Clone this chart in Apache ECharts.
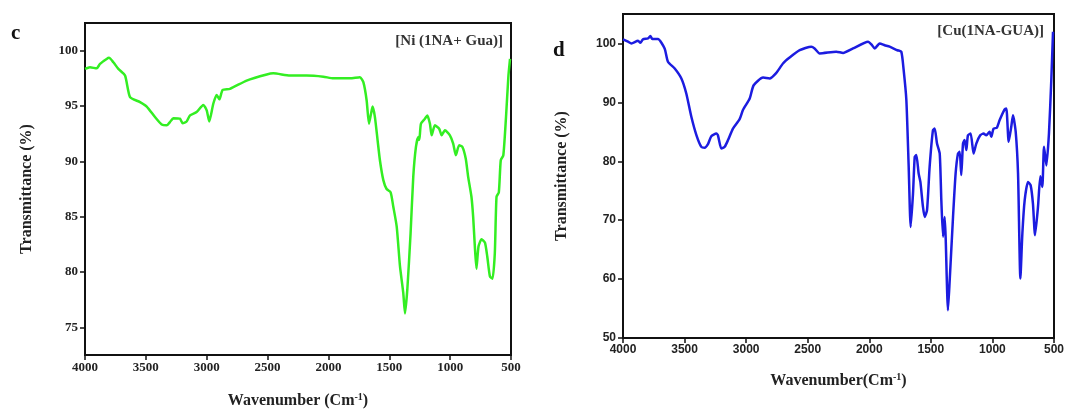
<!DOCTYPE html>
<html>
<head>
<meta charset="utf-8">
<script src="https://cdn.jsdelivr.net/npm/echarts@6/dist/echarts.min.js"></script>
<style>
html,body{margin:0;padding:0;background:#fff;}
#chart{width:1083px;height:409px;}
</style>
</head>
<body>
<div id="chart"></div>
<script>
// Panel c: Ni (1NA+ Gua)
var niWavenumber = [4000,3959,3904,3877,3822,3803,3767,3726,3671,3630,3548,3493,3425,3370,3329,3302,3274,3220,3198,3165,3137,3083,3028,3000,2979,2946,2918,2896,2869,2809,2672,2507,2453,2316,2179,2042,1960,1823,1741,1713,1686,1667,1650,1637,1618,1596,1577,1549,1522,1489,1467,1439,1412,1385,1371,1352,1325,1303,1281,1261,1253,1240,1207,1188,1166,1152,1125,1090,1070,1043,1002,975,953,926,899,872,852,825,811,797,784,767,742,714,695,673,652,633,619,600,584,563,541,522,508];
var niTransmittance = [98.35,98.5,98.4,98.8,99.25,99.35,98.95,98.35,97.75,95.8,95.35,94.95,94.0,93.33,93.25,93.55,93.9,93.85,93.45,93.6,94.15,94.45,95.1,94.6,93.6,95.2,96.0,95.6,96.45,96.55,97.3,97.85,97.95,97.75,97.75,97.65,97.5,97.5,97.6,97.15,95.5,93.4,94.3,94.95,94.0,91.9,90.1,88.3,87.5,87.2,85.9,84.1,80.5,78.1,76.25,78.4,83.5,88.6,91.3,92.2,91.95,93.4,93.85,94.15,93.4,92.35,93.25,92.95,92.35,92.8,92.35,91.6,90.55,91.45,91.3,90.25,88.6,86.8,85.0,82.3,80.3,82.3,82.95,82.65,81.4,79.6,79.4,81.7,86.8,87.2,90.1,90.55,94.0,97.6,99.25];

// Panel d: Cu(1NA-GUA)
var cuWavenumber = [4000,3959,3932,3878,3859,3838,3797,3778,3762,3716,3662,3635,3580,3526,3486,3445,3404,3364,3337,3310,3283,3242,3229,3201,3174,3147,3107,3053,3026,2971,2939,2863,2809,2755,2701,2647,2565,2471,2444,2403,2268,2213,2132,2010,1983,1956,1916,1875,1835,1772,1740,1721,1699,1680,1664,1645,1631,1618,1599,1585,1564,1550,1531,1510,1483,1469,1450,1428,1415,1401,1388,1380,1361,1347,1320,1299,1280,1266,1253,1239,1226,1212,1199,1177,1153,1131,1099,1072,1050,1023,1009,991,964,942,901,887,868,847,833,811,792,773,757,738,711,690,671,654,630,611,595,581,562,541,522,508];
var cuTransmittance = [100.7,100.3,100.0,100.45,100.1,100.7,100.85,101.25,100.75,100.75,99.15,96.9,95.75,94.05,91.5,87.55,84.45,82.45,82.3,82.9,84.25,84.7,84.4,82.15,82.45,83.6,85.55,87.15,88.7,90.65,92.9,94.2,94.05,95.0,96.6,97.6,98.85,99.45,99.15,98.3,98.6,98.4,99.15,100.3,99.85,99.15,100.0,99.7,99.45,98.85,98.6,95.5,90.4,79.05,68.85,74.5,80.75,81.05,77.9,76.5,72.25,70.55,71.7,79.05,85.3,85.55,83.0,81.3,73.4,67.2,70.55,67.2,54.7,59.8,70.55,77.9,81.3,81.6,77.65,83.0,83.6,81.9,84.4,84.7,81.3,83.0,84.4,84.7,84.4,85.0,84.15,85.55,85.7,86.95,88.8,88.95,83.3,85.85,87.8,85.0,77.9,60.1,67.7,73.4,76.5,75.95,72.8,67.45,72.25,77.45,75.65,82.45,79.3,84.7,93.75,102.0];

var xTicks = [4000,3500,3000,2500,2000,1500,1000,500];
var niYTicks = [75,80,85,90,95,100];
var cuYTicks = [50,60,70,80,90,100];

function pairs(xs, ys){ var out=[]; for(var i=0;i<xs.length;i++){ out.push([xs[i], ys[i]]); } return out; }
function plain(v){ return String(v); }

var serif = '"Liberation Serif", "DejaVu Serif", serif';
var sans = '"Liberation Sans", Arial, sans-serif';

function xAxis(gridIndex, font, size, nameText, gap){
  return {
    type:'value', gridIndex:gridIndex, min:500, max:4000, interval:500, inverse:true,
    axisLine:{show:true, lineStyle:{color:'#111', width:2}},
    axisTick:{show:true, inside:false, length:5, lineStyle:{color:'#111', width:1.5}, customValues:xTicks},
    axisLabel:{color:'#222', fontFamily:font, fontWeight:'bold', fontSize:size, margin:6, customValues:xTicks, formatter:plain},
    splitLine:{show:false},
    name:nameText, nameLocation:'middle', nameGap:gap,
    nameTextStyle:{color:'#222', fontFamily:serif, fontWeight:'bold', fontSize:16,
      rich:{sup:{fontSize:10, fontFamily:serif, fontWeight:'bold', color:'#222', verticalAlign:'top', padding:[0,0,8,0]}}}
  };
}
function yAxis(gridIndex, font, size, mn, mx, ticks, gap){
  return {
    type:'value', gridIndex:gridIndex, min:mn, max:mx,
    axisLine:{show:true, lineStyle:{color:'#111', width:2}},
    axisTick:{show:true, inside:false, length:5, lineStyle:{color:'#111', width:1.5}, customValues:ticks},
    axisLabel:{color:'#222', fontFamily:font, fontWeight:'bold', fontSize:size, margin:7, customValues:ticks, formatter:plain},
    splitLine:{show:false},
    name:'Transmittance (%)', nameLocation:'middle', nameGap:gap,
    nameTextStyle:{color:'#222', fontFamily:serif, fontWeight:'bold', fontSize:16}
  };
}

var chart = echarts.init(document.getElementById('chart'), null, {renderer:'canvas'});
chart.setOption({
  backgroundColor:'#fff',
  animation:false,
  grid:[
    {left:85, right:572, top:23, bottom:54, outerBoundsMode:'none', containLabel:false, show:true, borderColor:'#111', borderWidth:2, backgroundColor:'transparent'},
    {left:623, right:29, top:14, bottom:71, outerBoundsMode:'none', containLabel:false, show:true, borderColor:'#111', borderWidth:2, backgroundColor:'transparent'}
  ],
  xAxis:[
    xAxis(0, serif, 13, 'Wavenumber (Cm{sup|-1})', 37),
    xAxis(1, sans, 12, 'Wavenumber(Cm{sup|-1})', 34)
  ],
  yAxis:[
    yAxis(0, serif, 13, 72.5, 102.5, niYTicks, 50),
    yAxis(1, sans, 12, 50, 105, cuYTicks, 53)
  ],
  series:[
    {type:'line', xAxisIndex:0, yAxisIndex:0, data:pairs(niWavenumber, niTransmittance), showSymbol:false, smooth:0.2,
     lineStyle:{color:'#33ee22', width:2.5}, clip:true},
    {type:'line', xAxisIndex:1, yAxisIndex:1, data:pairs(cuWavenumber, cuTransmittance), showSymbol:false, smooth:0.2,
     lineStyle:{color:'#1c1ce0', width:2.5}, clip:true}
  ],
  graphic:[
    {type:'text', left:11, top:23, style:{text:'c', font:'bold 21px '+serif, fill:'#111'}},
    {type:'text', left:553, top:40, style:{text:'d', font:'bold 21px '+serif, fill:'#111'}},
    {type:'text', right:580, top:34, style:{text:'[Ni (1NA+ Gua)]', font:'bold 15px '+serif, fill:'#333'}},
    {type:'text', right:39, top:24, style:{text:'[Cu(1NA-GUA)]', font:'bold 15px '+serif, fill:'#333'}}
  ]
});
</script>
</body>
</html>
